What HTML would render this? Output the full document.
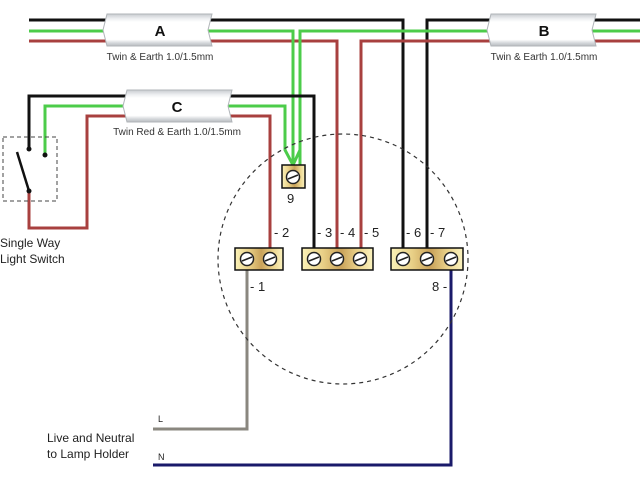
<!DOCTYPE html>
<html><head><meta charset="utf-8"><style>html,body{margin:0;padding:0;background:#fff}svg{display:block}</style></head>
<body>
<svg width="640" height="480" viewBox="0 0 640 480" xmlns="http://www.w3.org/2000/svg" font-family="Liberation Sans, sans-serif">
<defs>
<linearGradient id="gold" x1="0" x2="1" y1="0" y2="0">
<stop offset="0" stop-color="#fbf2b8"/><stop offset="0.3" stop-color="#e8cf86"/><stop offset="0.55" stop-color="#c9a25a"/><stop offset="0.8" stop-color="#ecd58e"/><stop offset="1" stop-color="#fbf3c0"/>
</linearGradient>
<linearGradient id="cab" x1="0" x2="0" y1="0" y2="1">
<stop offset="0" stop-color="#c8ccd0"/><stop offset="0.15" stop-color="#eef0f2"/><stop offset="0.25" stop-color="#fff"/><stop offset="0.8" stop-color="#fff"/><stop offset="0.9" stop-color="#d6d9dc"/><stop offset="1" stop-color="#b8bcc0"/>
</linearGradient>
<g id="screw"><circle r="6.5" fill="#fff" stroke="#222" stroke-width="1.5"/><line x1="-5" y1="2" x2="5" y2="-2" stroke="#222" stroke-width="1.5"/></g>
</defs>
<g fill="none" stroke-width="3" stroke-linejoin="miter">
<!-- A -->
<polyline points="29,20 403,20 403,250" stroke="#111"/>
<polyline points="29,41 337,41 337,250" stroke="#a8403f"/>
<polyline points="29,31 293,31 293,165" stroke="#4ccc4a"/>
<!-- B -->
<polyline points="640,20 427,20 427,250" stroke="#111"/>
<polyline points="640,41 361,41 361,250" stroke="#a8403f"/>
<polyline points="640,31 300,31 300,165" stroke="#4ccc4a"/>
<!-- C -->
<polyline points="29,149 29,96 314,96 314,250" stroke="#111"/>
<polyline points="45,155 45,106 285,106 285,150 293,165" stroke="#4ccc4a"/>
<polyline points="29,191 29,228 87,228 87,116 270,116 270,250" stroke="#a8403f"/>
<line x1="300" y1="150" x2="293" y2="165" stroke="#4ccc4a"/>
<!-- L/N -->
<polyline points="247,270 247,429 153,429" stroke="#8a877f"/>
<polyline points="451,270 451,465 153,465" stroke="#1a1a6a"/>
</g>
<!-- switch -->
<rect x="3" y="137" width="54" height="64" fill="none" stroke="#444" stroke-dasharray="4,3"/>
<line x1="17" y1="152" x2="29" y2="191" stroke="#111" stroke-width="2.5"/>
<circle cx="29" cy="149" r="2.5" fill="#111"/><circle cx="45" cy="155" r="2.5" fill="#111"/><circle cx="29" cy="191" r="2.5" fill="#111"/>
<!-- circle -->
<circle cx="343" cy="259" r="125" fill="none" stroke="#333" stroke-dasharray="4,4" stroke-width="1.2"/>
<!-- cables -->
<g stroke="#b0b4b8" stroke-width="1">
<path d="M107,14 L212,14 L208,30 L212,46 L107,46 L103,30 Z" fill="url(#cab)"/>
<path d="M491,14 L596,14 L592,30 L596,46 L491,46 L487,30 Z" fill="url(#cab)"/>
<path d="M127,90 L232,90 L228,106 L232,122 L127,122 L123,106 Z" fill="url(#cab)"/>
</g>
<g font-weight="bold" font-size="15" text-anchor="middle" fill="#111">
<text x="160" y="36">A</text><text x="544" y="36">B</text><text x="177" y="112">C</text>
</g>
<g font-size="10" fill="#333" text-anchor="middle">
<text x="160" y="60">Twin &amp; Earth 1.0/1.5mm</text>
<text x="544" y="60">Twin &amp; Earth 1.0/1.5mm</text>
<text x="177" y="135">Twin Red &amp; Earth 1.0/1.5mm</text>
</g>
<!-- terminals -->
<g stroke="#111" stroke-width="1.5" fill="url(#gold)">
<rect x="282" y="165" width="23" height="23"/>
<rect x="235" y="248" width="48" height="22"/>
<rect x="302" y="248" width="71" height="22"/>
<rect x="391" y="248" width="72" height="22"/>
</g>
<use href="#screw" x="293" y="177"/>
<use href="#screw" x="247" y="259"/><use href="#screw" x="270" y="259"/>
<use href="#screw" x="314" y="259"/><use href="#screw" x="337" y="259"/><use href="#screw" x="360" y="259"/>
<use href="#screw" x="403" y="259"/><use href="#screw" x="427" y="259"/><use href="#screw" x="451" y="259"/>
<g font-size="13" fill="#222">
<text x="287" y="203">9</text>
<text x="274" y="237">- 2</text>
<text x="317" y="237">- 3</text>
<text x="340" y="237">- 4</text>
<text x="364" y="237">- 5</text>
<text x="406" y="237">- 6</text>
<text x="430" y="237">- 7</text>
<text x="250" y="291">- 1</text>
<text x="432" y="291">8 -</text>
</g>
<g font-size="12" fill="#222">
<text x="0" y="247">Single Way</text><text x="0" y="263">Light Switch</text>
<text x="47" y="442">Live and Neutral</text><text x="47" y="458">to Lamp Holder</text>
</g>
<g font-size="9" fill="#222"><text x="158" y="422">L</text><text x="158" y="460">N</text></g>
</svg>
</body></html>
